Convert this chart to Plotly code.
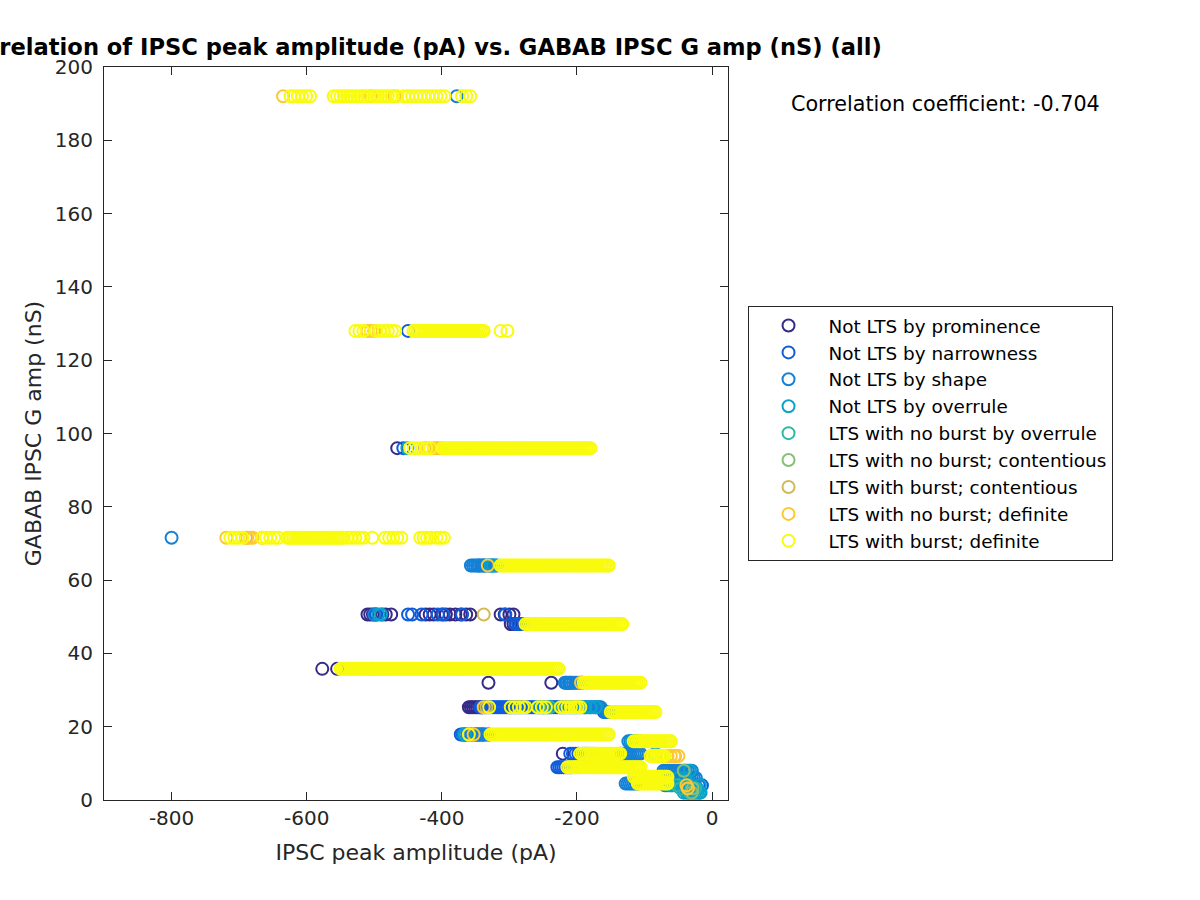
import plotly.graph_objects as go

# ---------------- data ----------------
categories = [
    "Not LTS by prominence",
    "Not LTS by narrowness",
    "Not LTS by shape",
    "Not LTS by overrule",
    "LTS with no burst by overrule",
    "LTS with no burst; contentious",
    "LTS with burst; contentious",
    "LTS with no burst; definite",
    "LTS with burst; definite",
]
colors = ["#352A87", "#0F5CDD", "#1481D6", "#06A4CA", "#2EB7A4",
          "#87BF77", "#D1BB59", "#FEC832", "#F9FB0E"]

# rows: (GABAB IPSC G amp in nS, [IPSC peak amplitudes in pA])
prom_rows = [
    (96, [-466]),
    (50.6, [-510, -506, -502, -498, -488, -483, -475, -424, -418, -412, -400, -394,
            -388, -380, -372, -364, -358, -313, -307, -300, -294]),
    (48, [-298, -294, -290, -286]),
    (35.78, [-577, -555]),
    (32, [-331, -238]),
    (25.3, [-360, -357, -354, -351, -348, -345, -342, -340]),
    (12.65, [-221]),
]
narrow_rows = [
    (128, [-450]),
    (96, [-457]),
    (64, [-345, -338]),
    (50.6, [-497, -450, -444, -430, -406, -398, -370, -306]),
    (48, [-291, -287, -283, -279, -276]),
    (32, [-216, -210]),
    (25.3, [-343, -340, -337, -334, -331, -328, -325, -322, -319, -316, -313, -310,
            -307, -304, -301, -298, -295, -292, -289, -286, -283, -280, -277, -274,
            -271, -268, -265, -262, -259, -256, -253, -250, -247, -244, -241, -238,
            -235, -232, -229, -226, -224]),
    (24, [-160, -156, -152]),
    (17.89, [-372, -369, -366, -350, -347, -344, -341, -338]),
    (12.65, [-210, -206, -202, -198]),
    (8.94, [-229, -226, -223, -220, -217, -214, -211, -208]),
    (4, [-20, -15]),
]
shape_rows = [
    (192, [-378]),
    (71.55, [-800]),
    (64, [-357, -354, -351, -348, -345, -342, -339, -336, -333, -330, -327, -324,
          -321, -318]),
    (50.6, [-500]),
    (32, [-218, -215, -212, -209, -206, -203, -200, -197, -194, -192]),
    (25.3, [-221, -218, -215, -212, -209, -206, -203, -200, -197, -194, -191, -188,
            -185, -182, -179, -176, -173, -170, -167, -165]),
    (24, [-158, -155, -152, -149, -147]),
    (17.89, [-368, -365, -362, -359, -356, -353, -350, -347, -344, -341, -338, -335,
             -332, -330]),
    (16, [-124, -121, -118, -115, -112, -110]),
    (12.65, [-192, -188, -184, -136, -133, -130, -127, -124, -121, -118, -115, -112,
             -109, -106]),
    (8, [-72, -69, -66, -63, -60, -57, -54, -51, -48, -45, -42, -39, -36, -33, -30]),
    (6, [-72, -69, -66, -63, -60, -57, -54, -51, -48, -45, -42, -39, -36, -33, -30,
         -27, -24]),
    (4.47, [-128, -125, -122, -119, -116, -113, -110]),
    (4, [-70, -67, -64, -61, -58, -55, -52, -49, -46, -43, -40, -37, -34, -31, -28,
         -25]),
    (3.16, [-45]),
]
overr_rows = [
    (96, [-451]),
    (64, [-328, -324]),
    (50.6, [-494, -490]),
    (25.3, [-250, -244, -188, -180, -172]),
    (17.89, [-366]),
    (16, [-118]),
    (12.65, [-84]),
    (8, [-40, -33]),
    (6, [-50, -40]),
    (4, [-60, -45, -30, -18]),
    (3.16, [-40, -35, -30, -26, -22]),
    (2, [-42, -38, -35, -31, -28, -25, -22, -19, -17]),
]
nbo_rows = [
    (25.3, [-256, -240]),
    (16, [-108]),
    (12.65, [-180]),
    (4, [-52, -36]),
    (3.16, [-47, -25]),
    (2, [-32]),
]
nbc_rows = [
    (16, [-106]),
    (12.65, [-175]),
    (8, [-42]),
    (3.16, [-29]),
    (2, [-30]),
]
bc_rows = [
    (128, [-500]),
    (96, [-425]),
    (71.55, [-690]),
    (50.6, [-338]),
    (25.3, [-334]),
    (12, [-55]),
    (3.16, [-36]),
]
nbd_rows = [
    (192, [-635, -505, -470]),
    (128, [-510, -505]),
    (96, [-420, -412, -408, -404, -400]),
    (71.55, [-719, -688, -684, -680, -666]),
    (64, [-332]),
    (35.78, [-503]),
    (32, [-194]),
    (25.3, [-338, -202]),
    (17.89, [-353]),
    (12, [-66, -61, -56, -50]),
    (8.94, [-199]),
    (6.32, [-106]),
    (4.47, [-108]),
    (4, [-38]),
    (3.16, [-36]),
]
bd_rows = [
    (192, [-624, -619, -613, -607, -601, -595, -560, -555, -550, -545, -540, -535,
           -530, -525, -520, -515, -510, -500, -495, -490, -485, -480, -475, -466,
           -456, -450, -444, -438, -432, -426, -420, -414, -408, -402, -396, -370,
           -364, -358]),
    (128, [-528, -522, -516, -498, -492, -486, -480, -474, -469, -442, -439, -436,
           -433, -430, -427, -424, -421, -418, -415, -412, -409, -406, -403, -400,
           -397, -394, -391, -388, -385, -382, -379, -376, -373, -370, -367, -364,
           -361, -358, -355, -352, -349, -346, -343, -340, -338, -313, -303]),
    (96, [-447, -441, -435, -429, -423, -417, -399, -396, -393, -390, -387, -384,
          -381, -378, -375, -372, -369, -366, -363, -360, -357, -354, -351, -348,
          -345, -342, -339, -336, -333, -330, -327, -324, -321, -318, -315, -312,
          -309, -306, -303, -300, -297, -294, -291, -288, -285, -282, -279, -276,
          -273, -270, -267, -264, -261, -258, -255, -252, -249, -246, -243, -240,
          -237, -234, -231, -228, -225, -222, -219, -216, -213, -210, -207, -204,
          -201, -198, -195, -192, -189, -186, -183, -180]),
    (71.55, [-713, -707, -701, -695, -666, -660, -654, -648, -642, -629, -626, -623,
             -620, -617, -614, -611, -608, -605, -602, -599, -596, -593, -590, -587,
             -584, -581, -578, -575, -572, -569, -566, -563, -560, -557, -554, -551,
             -548, -546, -540, -534, -528, -522, -516, -503, -484, -478, -472, -466,
             -460, -432, -427, -422, -417, -408, -402, -397]),
    (64, [-313, -310, -307, -304, -301, -298, -295, -292, -289, -286, -283, -280,
          -277, -274, -271, -268, -265, -262, -259, -256, -253, -250, -247, -244,
          -241, -238, -235, -232, -229, -226, -223, -220, -217, -214, -211, -208,
          -205, -202, -199, -196, -193, -190, -187, -184, -181, -178, -175, -172,
          -169, -166, -163, -160, -157, -154, -153]),
    (48, [-276, -273, -270, -267, -264, -261, -258, -255, -252, -249, -246, -243,
          -240, -237, -234, -231, -228, -225, -222, -219, -216, -213, -210, -207,
          -204, -201, -198, -195, -192, -189, -186, -183, -180, -177, -174, -171,
          -168, -165, -162, -159, -156, -153, -150, -147, -144, -141, -138, -135,
          -133]),
    (35.78, [-550, -547, -544, -541, -538, -535, -532, -529, -526, -523, -520, -517,
             -514, -511, -508, -505, -502, -499, -496, -493, -490, -487, -484, -481,
             -478, -475, -472, -469, -466, -463, -460, -457, -454, -451, -448, -445,
             -442, -439, -436, -433, -430, -427, -424, -421, -418, -415, -412, -409,
             -406, -403, -400, -397, -394, -391, -388, -385, -382, -379, -376, -373,
             -370, -367, -364, -361, -358, -355, -352, -349, -346, -343, -340, -337,
             -334, -331, -328, -325, -322, -319, -316, -313, -310, -307, -304, -301,
             -298, -295, -292, -289, -286, -283, -280, -277, -274, -271, -268, -265,
             -262, -259, -256, -253, -250, -247, -244, -241, -238, -235, -232, -229,
             -227]),
    (32, [-190, -187, -184, -181, -178, -175, -172, -169, -166, -163, -160, -157,
          -154, -151, -148, -145, -142, -139, -136, -133, -130, -127, -124, -121,
          -118, -115, -112, -109, -106]),
    (25.3, [-330, -298, -292, -286, -280, -276, -258, -252, -246, -224, -219, -214,
            -209, -204, -199, -195]),
    (24, [-150, -147, -144, -141, -138, -135, -132, -129, -126, -123, -120, -117,
          -114, -111, -108, -105, -102, -99, -96, -93, -90, -87, -84]),
    (17.89, [-360, -328, -325, -322, -319, -316, -313, -310, -307, -304, -301, -298,
             -295, -292, -289, -286, -283, -280, -277, -274, -271, -268, -265, -262,
             -259, -256, -253, -250, -247, -244, -241, -238, -235, -232, -229, -226,
             -223, -220, -217, -214, -211, -208, -205, -202, -199, -196, -193, -190,
             -187, -184, -181, -178, -175, -172, -169, -166, -163, -160, -157, -154,
             -153]),
    (16, [-116, -113, -110, -107, -104, -101, -98, -95, -92, -89, -86, -83, -80, -77,
          -74, -71, -68, -65, -62, -61]),
    (12.65, [-195, -192, -189, -186, -183, -180, -177, -174, -171, -168, -165, -162,
             -159, -156, -153, -150, -147, -144, -141, -138, -136]),
    (12, [-91, -88, -85, -82, -79, -76, -73, -71]),
    (8.94, [-214, -211, -208, -205, -202, -199, -196, -193, -190, -187, -184, -181,
            -178, -175, -172, -169, -166, -163, -160, -157, -154, -151, -148, -145,
            -142, -139, -136, -133, -130, -127, -124, -121, -118, -115, -112, -109,
            -106]),
    (6.32, [-116, -113, -110, -107, -104, -101, -98, -95, -92, -89, -86, -83, -80,
            -77, -74, -71, -68, -66]),
    (4.47, [-110, -107, -104, -101, -98, -95, -92, -89, -86, -83, -80, -77, -74, -71,
            -68, -66]),
]

all_rows = [prom_rows, narrow_rows, shape_rows, overr_rows, nbo_rows,
            nbc_rows, bc_rows, nbd_rows, bd_rows]

x_ticks = [-800, -600, -400, -200, 0]
x_tick_labels = ["-800", "-600", "-400", "-200", "0"]
y_ticks = [0, 20, 40, 60, 80, 100, 120, 140, 160, 180, 200]
corr_text = "Correlation coefficient: -0.704"

# ---------------- figure ----------------
fig = go.Figure()
for name, color, rows in zip(categories, colors, all_rows):
    xs, ys = [], []
    for yv, xl in rows:
        xs.extend(xl)
        ys.extend([yv] * len(xl))
    fig.add_trace(go.Scatter(
        x=xs, y=ys, mode="markers", name=name,
        marker=dict(symbol="circle-open", size=12, color=color,
                    line=dict(width=2, color=color)),
    ))

axis_color = "#262626"
fig.update_layout(
    width=1200, height=900,
    margin=dict(l=104, r=472, t=67, b=100),
    paper_bgcolor="white", plot_bgcolor="white",
    font=dict(family="DejaVu Sans", color=axis_color),
    title=dict(
        text="Correlation of IPSC peak amplitude (pA) vs. GABAB IPSC G amp (nS) (all)",
        font=dict(family="DejaVu Sans", size=22.6, color="black", weight="bold"),
        x=419 / 1200, xanchor="center", xref="container",
        y=1 - 47 / 900, yanchor="middle", yref="container",
    ),
    showlegend=True,
    legend=dict(
        x=1.0313, xanchor="left", y=0.5, yanchor="middle",
        bordercolor=axis_color, borderwidth=1, bgcolor="white",
        font=dict(family="DejaVu Sans", size=18.4, color="black"),
        itemwidth=70, tracegroupgap=0,
    ),
    annotations=[dict(
        text=corr_text, xref="paper", yref="paper",
        x=(788 - 104) / 623.5, y=(799.6 - 104) / 733,
        xanchor="left", yanchor="middle", showarrow=False,
        font=dict(family="DejaVu Sans", size=20.7, color="black"),
    )],
)
fig.update_xaxes(
    range=[-900, 23.5], tickvals=x_ticks, ticktext=x_tick_labels,
    ticks="inside", ticklen=8, automargin=False,
    tickcolor=axis_color, showline=True, linecolor=axis_color, linewidth=1,
    mirror="ticks", showgrid=False, zeroline=False,
    tickfont=dict(size=20, color=axis_color), ticklabelstandoff=0,
    title=dict(text="IPSC peak amplitude (pA)", font=dict(size=22, color=axis_color),
               standoff=15),
)
fig.update_yaxes(
    range=[0, 200], tickvals=y_ticks, ticks="inside", ticklen=8, automargin=False,
    tickcolor=axis_color, showline=True, linecolor=axis_color, linewidth=1,
    mirror="ticks", showgrid=False, zeroline=False,
    tickfont=dict(size=20, color=axis_color), ticklabelstandoff=6,
    title=dict(text="GABAB IPSC G amp (nS)", font=dict(size=22, color=axis_color),
               standoff=7),
)

fig.write_html("out.html", config={"displayModeBar": False},
               post_script="document.body.style.margin='0';")
